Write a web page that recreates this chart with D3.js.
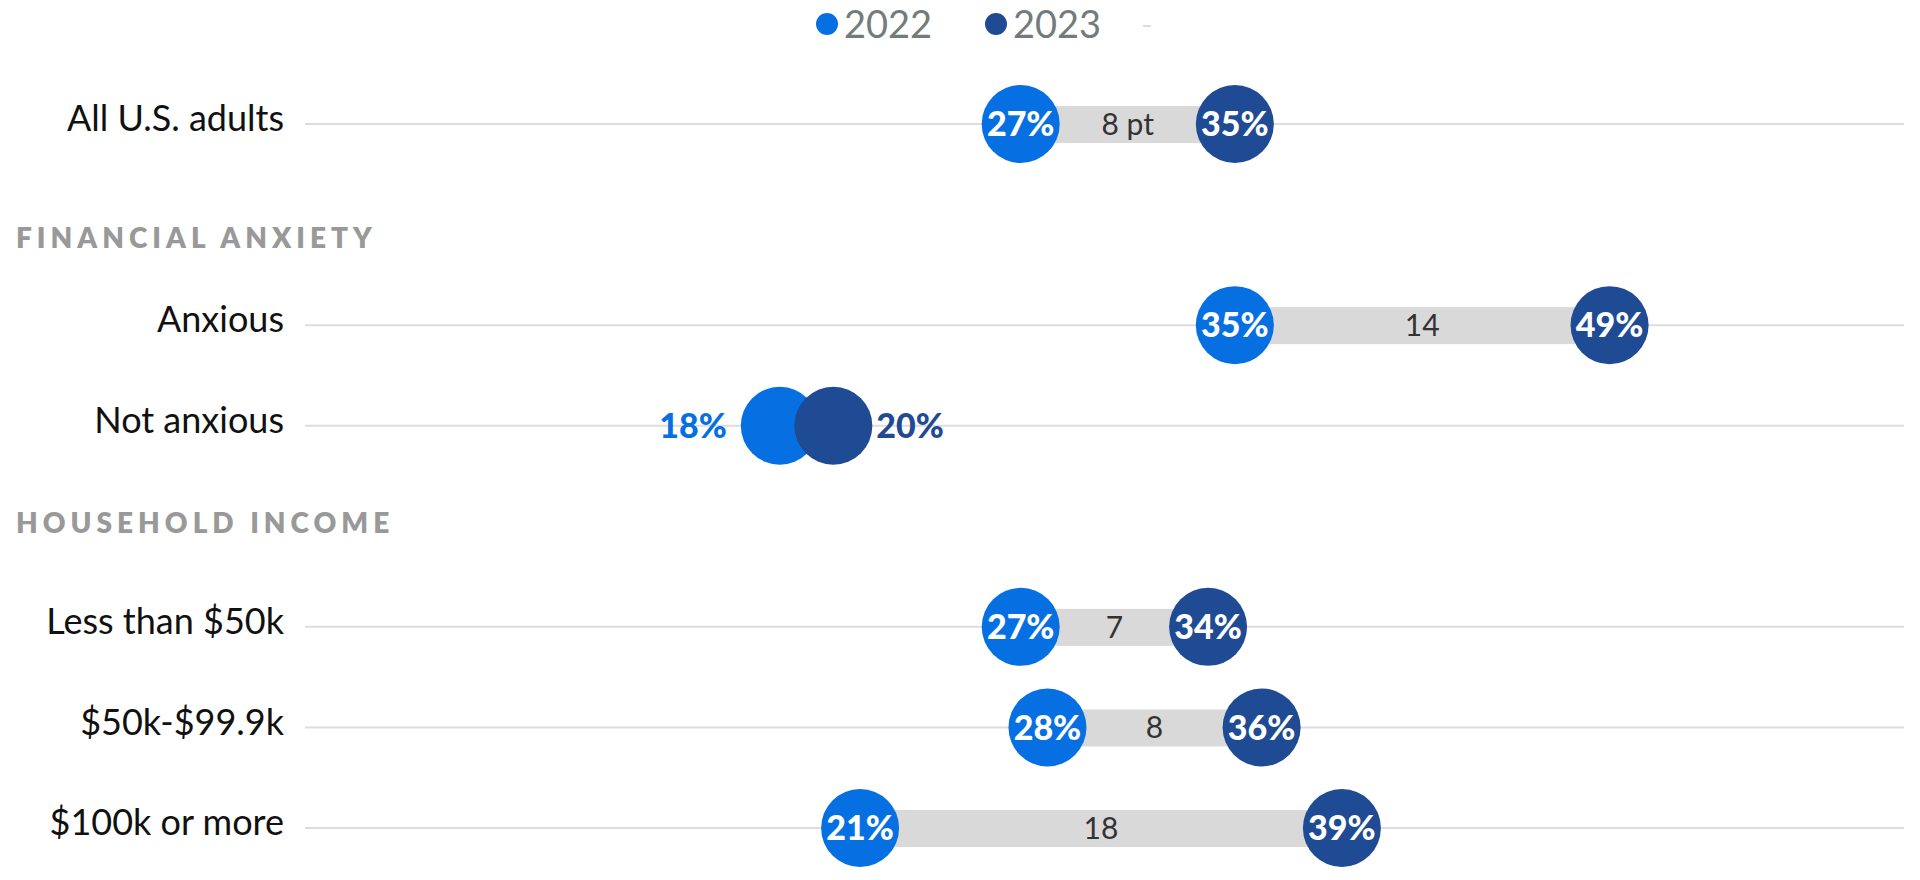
<!DOCTYPE html>
<html>
<head>
<meta charset="utf-8">
<script src="https://cdn.jsdelivr.net/npm/d3@7"></script>
<style>
  body { margin: 0; background: #fff; }
  svg { display: block; font-family: Lato, "Open Sans", sans-serif; }
</style>
</head>
<body>
<svg id="chart" width="1920" height="880"></svg>
<script>
// rows top to bottom, section headers have no values
const categories = ["All U.S. adults", "FINANCIAL ANXIETY", "Anxious", "Not anxious", "HOUSEHOLD INCOME", "Less than $50k", "$50k-$99.9k", "$100k or more"];
const headers = ["FINANCIAL ANXIETY", "HOUSEHOLD INCOME"];
const values2022 = [27, null, 35, 18, null, 27, 28, 21];
const values2023 = [35, null, 49, 20, null, 34, 36, 39];
const years = ["2022", "2023"];

const colors = { "2022": "#0670e3", "2023": "#1f4a94" };
const r = 39;
const headerNudge = { "FINANCIAL ANXIETY": 13, "HOUSEHOLD INCOME": -3 };

const svg = d3.select("#chart");

const x = d3.scaleLinear().domain([0, 60]).range([298, 1904]);
const y = d3.scalePoint().domain(categories).range([124, 828]);

const rows = categories.map((c, i) => ({
  name: c,
  header: headers.includes(c),
  a: values2022[i],
  b: values2023[i],
  first: i === 0
}));

// legend
const legend = svg.append("g").attr("transform", "translate(0,24)");
const lx = [827, 996];
years.forEach((yr, i) => {
  legend.append("circle").attr("cx", lx[i]).attr("cy", 0).attr("r", 11).attr("fill", colors[yr]);
  legend.append("text").attr("x", lx[i] + 17).attr("y", 0).attr("dy", "0.36em")
    .attr("font-size", 38).attr("fill", "#737c7b").text(yr);
});
legend.append("rect").attr("x", 1143).attr("y", 1).attr("width", 8).attr("height", 2).attr("fill", "#ddd");

// section headers
svg.append("g").selectAll("text")
  .data(rows.filter(d => d.header))
  .join("text")
  .attr("x", 16)
  .attr("y", d => y(d.name) + headerNudge[d.name])
  .attr("dy", "0.36em")
  .attr("font-size", 28)
  .attr("font-weight", 800)
  .attr("letter-spacing", 5)
  .attr("fill", "#999")
  .text(d => d.name);

const data = rows.filter(d => !d.header);

const g = svg.append("g").selectAll("g")
  .data(data)
  .join("g")
  .attr("transform", d => `translate(0,${y(d.name)})`);

g.append("text")
  .attr("x", 284)
  .attr("text-anchor", "end")
  .attr("dy", "0.2em")
  .attr("font-size", 36)
  .attr("fill", "#111")
  .text(d => d.name);

g.append("line")
  .attr("x1", 305).attr("x2", 1904)
  .attr("stroke", "#ddd").attr("stroke-width", 2);

const apart = d => x(d.b) - x(d.a) > 2 * r;

g.filter(apart).append("rect")
  .attr("x", d => x(d.a))
  .attr("y", -18)
  .attr("width", d => x(d.b) - x(d.a))
  .attr("height", 37)
  .attr("fill", "#d9d9d9");

g.filter(apart).append("text")
  .attr("x", d => (x(d.a) + x(d.b)) / 2)
  .attr("dy", "0.36em")
  .attr("text-anchor", "middle")
  .attr("font-size", 30)
  .attr("fill", "#333")
  .text(d => d.first ? `${d.b - d.a} pt` : d.b - d.a);

g.append("circle").attr("cx", d => x(d.a)).attr("r", r).attr("fill", colors["2022"]);
g.append("circle").attr("cx", d => x(d.b)).attr("r", r).attr("fill", colors["2023"]);

g.append("text")
  .attr("x", d => apart(d) ? x(d.a) : x(d.a) - r - 14)
  .attr("text-anchor", d => apart(d) ? "middle" : "end")
  .attr("dy", "0.36em")
  .attr("font-size", 34)
  .attr("font-weight", 900)
  .attr("fill", d => apart(d) ? "#fff" : colors["2022"])
  .text(d => d.a + "%");

g.append("text")
  .attr("x", d => apart(d) ? x(d.b) : x(d.b) + r + 4)
  .attr("text-anchor", d => apart(d) ? "middle" : "start")
  .attr("dy", "0.36em")
  .attr("font-size", 34)
  .attr("font-weight", 900)
  .attr("fill", d => apart(d) ? "#fff" : colors["2023"])
  .text(d => d.b + "%");
</script>
</body>
</html>
